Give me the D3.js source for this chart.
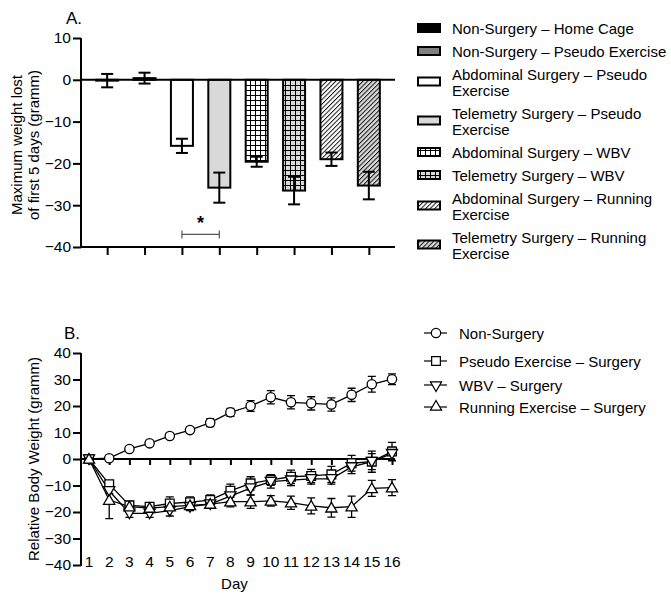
<!DOCTYPE html>
<html><head><meta charset="utf-8">
<script src="https://cdn.jsdelivr.net/npm/d3@7"></script>
<style>body{margin:0;background:#fff} text{font-family:"Liberation Sans",Arial,sans-serif;fill:#000}</style>
</head><body><svg id="c" width="671" height="594"></svg>
<script>
// ---------- Data: panel A ----------
const groupsA = ["Non-Surgery – Home Cage","Non-Surgery – Pseudo Exercise","Abdominal Surgery – Pseudo Exercise","Telemetry Surgery – Pseudo Exercise","Abdominal Surgery – WBV","Telemetry Surgery – WBV","Abdominal Surgery – Running Exercise","Telemetry Surgery – Running Exercise"];
const legendLinesA = [["Non-Surgery – Home Cage"],["Non-Surgery – Pseudo Exercise"],["Abdominal Surgery – Pseudo","Exercise"],["Telemetry Surgery – Pseudo","Exercise"],["Abdominal Surgery – WBV"],["Telemetry Surgery – WBV"],["Abdominal Surgery – Running","Exercise"],["Telemetry Surgery – Running","Exercise"]];
const meanA = [-0.2, 0.4, -15.8, -25.8, -19.6, -26.5, -19.0, -25.3];
const semA  = [1.6, 1.3, 1.7, 3.6, 1.2, 3.3, 1.6, 3.3];
const ticksA = [10, 0, -10, -20, -30, -40];
// ---------- Data: panel B ----------
const days = [1,2,3,4,5,6,7,8,9,10,11,12,13,14,15,16];
const seriesNamesB = ["Non-Surgery","Pseudo Exercise – Surgery","WBV – Surgery","Running Exercise – Surgery"];
const nonSurgery    = [0, 0.3, 3.8, 5.9, 8.7, 10.9, 13.7, 17.6, 20.0, 23.3, 21.4, 21.0, 20.6, 24.2, 28.2, 30.1];
const nonSurgerySem = [0, 0.5, 0.8, 0.8, 1.0, 1.0, 1.5, 1.5, 2.0, 2.5, 2.5, 2.5, 2.5, 2.5, 3.0, 2.0];
const pseudo        = [0, -9.5, -17.5, -18.0, -16.8, -16.3, -15.5, -12.0, -9.2, -7.9, -6.7, -6.4, -5.8, -1.6, -1.0, 2.8];
const pseudoSem     = [0, 1.0, 1.5, 1.5, 2.5, 2.0, 2.0, 2.5, 2.5, 2.0, 2.5, 2.5, 3.0, 3.0, 4.0, 3.5];
const wbv           = [0, -12.0, -20.5, -20.5, -19.5, -18.0, -17.0, -14.0, -11.0, -8.5, -8.0, -7.5, -7.5, -3.0, -1.0, 2.0];
const wbvSem        = [0, 1.0, 1.5, 1.5, 2.0, 1.5, 1.5, 2.0, 2.5, 2.5, 2.0, 2.0, 2.0, 2.5, 3.0, 2.5];
const running       = [0, -15.5, -18.0, -18.5, -18.0, -17.5, -17.0, -16.1, -16.1, -15.8, -16.5, -17.7, -18.4, -18.0, -11.1, -10.8];
const runningSem    = [0, 7.0, 1.5, 1.5, 1.5, 1.5, 1.5, 2.0, 2.5, 2.0, 2.5, 3.0, 3.5, 4.0, 3.0, 3.0];
const ticksB = [40, 30, 20, 10, 0, -10, -20, -30, -40];

const svg = d3.select("#c");
const FONT = 15;

// ---------- patterns ----------
const defs = svg.append("defs");
function gridPat(id, bg){
  const p = defs.append("pattern").attr("id", id).attr("patternUnits","userSpaceOnUse").attr("width",5).attr("height",5);
  p.append("rect").attr("width",5).attr("height",5).attr("fill",bg);
  p.append("path").attr("d","M0,0.5H5M0.5,0V5").attr("stroke","#000").attr("stroke-width",1);
}
function hatchPat(id, bg){
  const p = defs.append("pattern").attr("id", id).attr("patternUnits","userSpaceOnUse").attr("width",3.2).attr("height",3.2).attr("patternTransform","rotate(45)");
  p.append("rect").attr("width",3.2).attr("height",3.2).attr("fill",bg);
  p.append("line").attr("x1",0.5).attr("x2",0.5).attr("y1",0).attr("y2",3.2).attr("stroke","#000").attr("stroke-width",0.9);
}
gridPat("gridW","#fff"); gridPat("gridG","#d9d9d9");
hatchPat("hatchW","#fff"); hatchPat("hatchG","#d9d9d9");
const fillsA = ["#000","#808080","#fff","#d9d9d9","url(#gridW)","url(#gridG)","url(#hatchW)","url(#hatchG)"];

// ---------- Panel A ----------
const xA = d3.scalePoint().domain(groupsA).range([81, 395]).padding(0.7);
const yA = d3.scaleLinear().domain([-40, 10]).range([247, 38]);
const gA = svg.append("g");

const yAxisA = gA.append("g").attr("transform","translate(81,0)")
  .call(d3.axisLeft(yA).tickValues(ticksA).tickSize(8).tickPadding(2));
const xAxisA = gA.append("g").attr("transform",`translate(0,${yA(-40)})`)
  .call(d3.axisBottom(xA).tickSize(8).tickFormat(""));
[yAxisA, xAxisA].forEach(a=>{
  a.selectAll("path,line").attr("stroke","#000").attr("stroke-width",2);
  a.select(".domain").attr("d", a===yAxisA ? `M0,${yA(10)}V${yA(-40)+1}` : "M80,0H395");
  a.selectAll("text").attr("font-size",15.5).attr("font-family","Liberation Sans, Arial, sans-serif").attr("fill","#000");
});

const bw = 22;
gA.selectAll("rect.bar").data(groupsA).join("rect").attr("class","bar")
  .attr("x", d=>xA(d)-bw/2)
  .attr("width", bw)
  .attr("y", (d,i)=>Math.min(yA(0), yA(meanA[i])))
  .attr("height",(d,i)=>Math.abs(yA(meanA[i])-yA(0)))
  .attr("fill",(d,i)=>fillsA[i])
  .attr("stroke","#000").attr("stroke-width",2);

// zero line
gA.append("line").attr("x1",81).attr("x2",395).attr("y1",yA(0)).attr("y2",yA(0)).attr("stroke","#000").attr("stroke-width",2);

// error bars A
const ebA = gA.selectAll("g.eb").data(groupsA).join("g").attr("class","eb");
ebA.append("line").attr("x1",d=>xA(d)).attr("x2",d=>xA(d))
  .attr("y1",(d,i)=>yA(meanA[i]+semA[i])).attr("y2",(d,i)=>yA(meanA[i]-semA[i]))
  .attr("stroke","#000").attr("stroke-width",2);
[1,-1].forEach(s=>{
  ebA.append("line").attr("x1",d=>xA(d)-6).attr("x2",d=>xA(d)+6)
    .attr("y1",(d,i)=>yA(meanA[i]+s*semA[i])).attr("y2",(d,i)=>yA(meanA[i]+s*semA[i]))
    .attr("stroke","#000").attr("stroke-width",2);
});

// significance bracket
const sx1 = xA(groupsA[2]), sx2 = xA(groupsA[3]), sy = yA(-37);
gA.append("path").attr("d",`M${sx1},${sy-4}V${sy+4}M${sx1},${sy}H${sx2}M${sx2},${sy-4}V${sy+4}`)
  .attr("stroke","#555").attr("stroke-width",1.2).attr("fill","none");
gA.append("text").attr("x",(sx1+sx2)/2).attr("y",sy-5).attr("text-anchor","middle").attr("font-size",18).attr("font-weight","bold").text("*");

// labels A
gA.append("text").attr("x",66).attr("y",24).attr("font-size",17).text("A.");
const ylabA = gA.append("text").attr("transform","translate(0,145) rotate(-90)").attr("text-anchor","middle").attr("font-size",FONT);
ylabA.append("tspan").attr("x",0).attr("y",22).text("Maximum weight lost");
ylabA.append("tspan").attr("x",0).attr("y",39).text("of first 5 days (gramm)");

// legend A
let ly = 33.5;
const legA = svg.append("g");
legendLinesA.forEach((lines,i)=>{
  const symY = lines.length>1 ? ly+2 : ly-5.5;
  legA.append("rect").attr("x",418).attr("y",symY-4).attr("width",22).attr("height",8)
    .attr("fill",fillsA[i]).attr("stroke","#000").attr("stroke-width",2);
  lines.forEach((t,j)=>{
    legA.append("text").attr("x",452).attr("y",ly+j*16.5).attr("font-size",FONT).text(t);
  });
  ly += lines.length>1 ? 39 : 23;
});

// ---------- Panel B ----------
const xB = d3.scaleLinear().domain([1,16]).range([89, 392]);
const yB = d3.scaleLinear().domain([-40, 40]).range([565, 353]);
const gB = svg.append("g");

const yAxisB = gB.append("g").attr("transform","translate(81,0)")
  .call(d3.axisLeft(yB).tickValues(ticksB).tickSize(8).tickPadding(2));
yAxisB.selectAll("path,line").attr("stroke","#000").attr("stroke-width",2);
yAxisB.select(".domain").attr("d",`M0,${yB(40)}V${yB(-40)+1}`);
yAxisB.selectAll("text").attr("font-size",15.5).attr("font-family","Liberation Sans, Arial, sans-serif").attr("fill","#000");

const xAxisB = gB.append("g").attr("transform",`translate(0,${yB(0)})`)
  .call(d3.axisBottom(xB).tickValues(days).tickSize(6).tickFormat(""));
xAxisB.selectAll("path,line").attr("stroke","#000").attr("stroke-width",2);
xAxisB.select(".domain").attr("d","M80,0H395");
gB.append("g").selectAll("text").data(days).join("text")
  .attr("x",d=>xB(d)).attr("y",567).attr("text-anchor","middle").attr("font-size",15.5).text(d=>d);

gB.append("text").attr("x",64).attr("y",339).attr("font-size",17).text("B.");
gB.append("text").attr("transform",`translate(39,${yB(0)}) rotate(-90)`).attr("text-anchor","middle").attr("font-size",FONT).text("Relative Body Weight (gramm)");
gB.append("text").attr("x",xB(8.2)).attr("y",589).attr("text-anchor","middle").attr("font-size",FONT).text("Day");

const seriesB = [
  {vals: nonSurgery, sem: nonSurgerySem, sym: d3.symbolCircle, size: 68, rot: 0},
  {vals: pseudo, sem: pseudoSem, sym: d3.symbolSquare, size: 76, rot: 0},
  {vals: wbv, sem: wbvSem, sym: d3.symbolTriangle, size: 54, rot: 180},
  {vals: running, sem: runningSem, sym: d3.symbolTriangle, size: 54, rot: 0}
];
const line = d3.line().x((d,i)=>xB(days[i])).y(d=>yB(d));
seriesB.forEach(s=>{
  const g = gB.append("g");
  g.append("path").attr("d", line(s.vals)).attr("fill","none").attr("stroke","#000").attr("stroke-width",1.3);
  days.forEach((d,i)=>{
    if (s.sem[i] <= 0) return;
    const x = xB(d), y1 = yB(s.vals[i]+s.sem[i]), y2 = yB(s.vals[i]-s.sem[i]);
    g.append("path").attr("d",`M${x},${y1}V${y2}M${x-4},${y1}H${x+4}M${x-4},${y2}H${x+4}`)
      .attr("stroke","#000").attr("stroke-width",1.3).attr("fill","none");
  });
});
seriesB.forEach(s=>{
  gB.append("g").selectAll("path").data(s.vals).join("path")
    .attr("d", d3.symbol().type(s.sym).size(s.size))
    .attr("transform",(d,i)=>`translate(${xB(days[i])},${yB(d) + (s.sym===d3.symbolTriangle ? (s.rot ? -1 : 1) : 0)}) rotate(${s.rot})`)
    .attr("fill","#fff").attr("stroke","#000").attr("stroke-width",1.3);
});

// legend B
const legB = svg.append("g");
const legYsB = [333, 361, 385, 407];
seriesB.forEach((s,i)=>{
  const y = legYsB[i];
  legB.append("line").attr("x1",424).attr("x2",447).attr("y1",y).attr("y2",y).attr("stroke","#000").attr("stroke-width",1.2);
  legB.append("path").attr("d", d3.symbol().type(s.sym).size(s.size))
    .attr("transform",`translate(436,${y}) rotate(${s.rot})`).attr("fill","#fff").attr("stroke","#000").attr("stroke-width",1.2);
  legB.append("text").attr("x",459).attr("y",y+5.5).attr("font-size",FONT).text(seriesNamesB[i]);
});
</script></body></html>
